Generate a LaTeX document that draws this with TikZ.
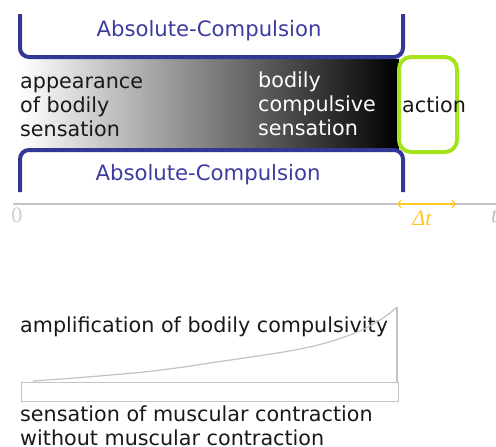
\documentclass[tikz,border=0pt]{standalone}
\usepackage{fontspec}
\setmainfont{DejaVu Sans}
\newfontfamily\seriffont{Liberation Serif}
\usetikzlibrary{arrows.meta}
\definecolor{bracketblue}{RGB}{51,55,150}
\definecolor{textblue}{RGB}{60,60,160}
\definecolor{actiongreen}{RGB}{165,228,28}
\definecolor{axisgray}{RGB}{195,195,195}
\definecolor{deltaorange}{RGB}{255,200,40}
\definecolor{zerogray}{RGB}{205,205,212}
\begin{document}
\begin{tikzpicture}[x=1pt,y=1pt,
  bracket/.style={draw=bracketblue,line width=4pt,rounded corners=9pt},
  lbl/.style={font=\fontsize{20.7}{24}\selectfont,inner sep=0pt,align=left,text=black!90},
  bluelbl/.style={font=\fontsize{21.2}{24}\selectfont,inner sep=0pt,text=textblue},
  axlbl/.style={font=\fontsize{22}{24}\seriffont,inner sep=0pt},
  chart/.style={draw=axisgray,line width=1.2pt}]
\useasboundingbox (0,0) rectangle (496,-447);
% gradient band
\shade[left color=white,right color=black] (20,-59) rectangle (399,-148);
% brackets
\draw[bracket] (20,-14) -- (20,-57) -- (403,-57) -- (403,-14);
\draw[bracket] (20,-192) -- (20,-150) -- (403,-150) -- (403,-192);
\node[bluelbl,anchor=base] (topabs) at (209,-36) {Absolute-Compulsion};
\node[bluelbl,anchor=base] (botabs) at (208,-180) {Absolute-Compulsion};
% action box
\draw[draw=actiongreen,line width=4pt,rounded corners=12pt] (399,-57) rectangle (457,-152);
\node[lbl,anchor=base west] (appear) at (20,-136) {appearance\\of bodily\\sensation};
\node[lbl,anchor=base west,text=white] (bodily) at (258,-135) {bodily\\compulsive\\sensation};
\node[lbl,anchor=base west] (action) at (402,-112) {action};
% time axis
\coordinate (ax0) at (13,-204);
\coordinate (ax1) at (496,-204);
\draw[axisgray,line width=1.5pt] (ax0) -- (ax1);
\coordinate (dt0) at (397,-204);
\coordinate (dt1) at (456,-204);
\draw[deltaorange,line width=1.3pt,{Straight Barb[length=3pt,width=7pt]}-{Straight Barb[length=3pt,width=7pt]}] (dt0) -- (dt1);
\node[axlbl,text=zerogray,anchor=base] (zero) at (17,-222) {0};
\node[axlbl,text=deltaorange,anchor=base] (dt) at (422,-225) {\itshape Δt};
\node[axlbl,text=zerogray!80!gray,anchor=base west] (tlab) at (491,-222) {\itshape t};
% bottom chart
\node[lbl,anchor=base west] (ampl) at (20,-332) {amplification of bodily compulsivity};
\draw[chart] plot[smooth,tension=0.6] coordinates {(33,-381) (87,-377) (153,-371) (210,-363) (300,-349) (350,-335) (380,-320) (397,-307)};
\draw[chart] (397,-307) -- (397,-382);
\node[chart,draw,rectangle,minimum width=377pt,minimum height=19pt,inner sep=0pt,anchor=north west] (muscle) at (20.5,-382) {};
\node[lbl,anchor=base west] (sens) at (20,-445) {sensation of muscular contraction\\without muscular contraction};
\end{tikzpicture}
\end{document}
